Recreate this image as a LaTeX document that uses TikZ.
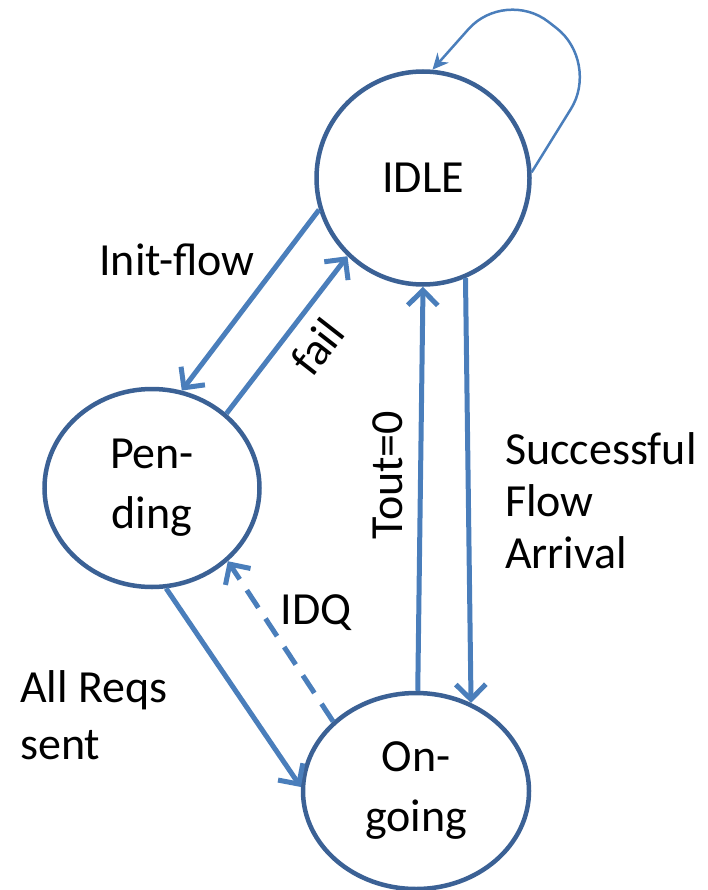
\documentclass[tikz,border=0pt]{standalone}
\usepackage{fontspec}
\setmainfont{Carlito}
\usetikzlibrary{shapes.geometric,arrows.meta}
\definecolor{ringblue}{HTML}{3B6195}
\definecolor{edgeblue}{HTML}{4A7EBB}

\begin{document}
\begin{tikzpicture}[x=1pt,y=-1pt,
	state/.style={draw=ringblue,line width=4.5pt,fill=white,align=center,inner sep=0pt,font=\fontsize{46}{60}\selectfont},
	trans/.style={draw=edgeblue,line width=5pt,-{Straight Barb[length=15pt,width=30pt]}},
	lbl/.style={inner sep=0pt,font=\fontsize{46}{52}\selectfont}]
	\useasboundingbox (0,0) rectangle (707,890);
	% states
	\node[state,circle,minimum size=213pt] (idle) at (423,178) {IDLE};
	\node[state,ellipse,minimum width=215pt,minimum height=198pt] (pend) at (152,488) {Pen-\\ding};
	\node[state,ellipse,minimum width=226pt,minimum height=196pt] (ongo) at (416,791) {On-\\going};
	% transitions
	\draw[trans] (idle.197) -- (pend.73);
	\draw[trans] (pend.45) -- (idle.226);
	\draw[trans] (ongo.89) -- (idle.270);
	\draw[trans] (idle.293) -- (ongo.58);
	\draw[trans] (pend.278) -- (ongo.178);
	\draw[trans,dash pattern=on 21pt off 13pt] (ongo.140) -- (pend.316);
	\draw[draw=edgeblue,line width=2.5pt,rounded corners=55pt,-{Stealth[length=16pt,width=15pt]}]
		(idle.3) -- (600,62) -- (505,-12) -- (idle.85);
	% labels
	\node[lbl] (initlbl) at (177,260) {Init-flow};
	\node[lbl,rotate=52] (faillbl) at (317,347) {fail};
	\node[lbl,rotate=90] (toutlbl) at (388,475) {Tout=0};
	\node[lbl] (idqlbl) at (316,613) {IDQ};
	\node[lbl,align=left,anchor=north west,font=\fontsize{46}{57}\selectfont] (reqlbl) at (20,670) {All Reqs\\sent};
	\node[lbl,align=left,anchor=north west] (succlbl) at (505,432) {Successful\\Flow\\Arrival};
\end{tikzpicture}
\end{document}
